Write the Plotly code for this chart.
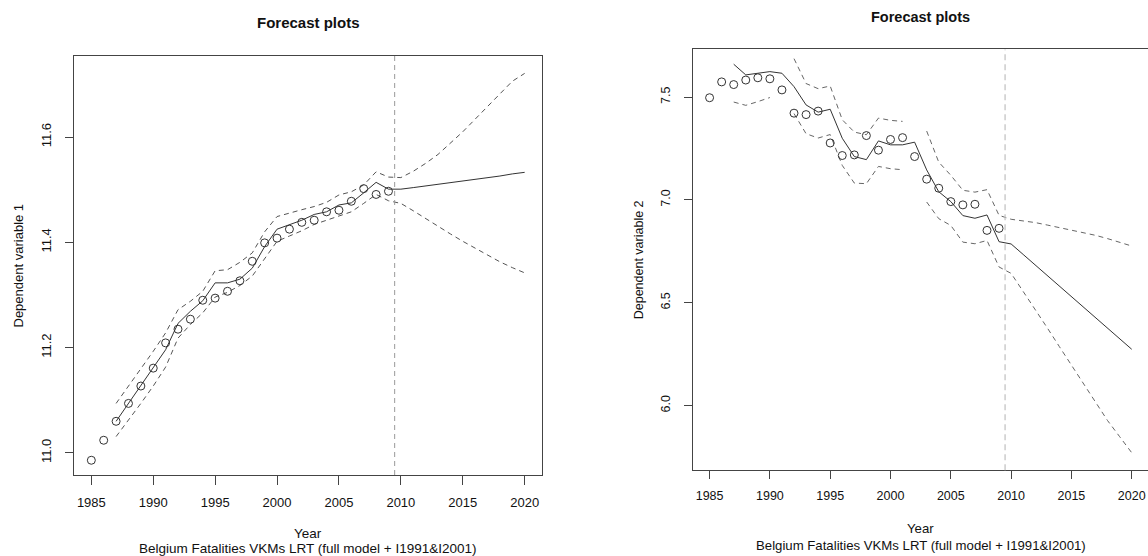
import plotly.graph_objects as go

# ---------------- data: panel 1 (dependent variable 1) ----------------
obs_years = list(range(1985, 2010))
fit_years = list(range(1987, 2021))

obs1 = [10.986, 11.024, 11.060, 11.094, 11.127, 11.161, 11.209, 11.235, 11.254, 11.290,
        11.294, 11.307, 11.327, 11.364, 11.399, 11.408, 11.425, 11.438, 11.442, 11.458,
        11.461, 11.478, 11.502, 11.491, 11.497]
fit1 = [11.060, 11.094, 11.127, 11.160, 11.196, 11.246, 11.269, 11.289, 11.323, 11.323,
        11.330, 11.351, 11.392, 11.425, 11.433, 11.442, 11.453, 11.458, 11.471, 11.475,
        11.494, 11.514, 11.501,
        11.501, 11.504, 11.507, 11.511, 11.514, 11.517, 11.520, 11.523, 11.526, 11.530, 11.533]
upper1 = [11.094, 11.126, 11.160, 11.193, 11.228, 11.272, 11.288, 11.307, 11.346, 11.348,
          11.362, 11.380, 11.420, 11.449, 11.456, 11.462, 11.468, 11.476, 11.490, 11.496,
          11.509, 11.534, 11.524,
          11.523, 11.535, 11.550, 11.567, 11.588, 11.610, 11.634, 11.658, 11.683, 11.706, 11.721]
lower1 = [11.031, 11.062, 11.094, 11.127, 11.163, 11.218, 11.244, 11.266, 11.296, 11.305,
          11.318, 11.336, 11.370, 11.402, 11.412, 11.422, 11.434, 11.442, 11.450, 11.458,
          11.474, 11.491, 11.479,
          11.474, 11.460, 11.445, 11.430, 11.416, 11.402, 11.389, 11.376, 11.363, 11.352, 11.342]

# ---------------- data: panel 2 (dependent variable 2) ----------------
obs2 = [7.497, 7.574, 7.561, 7.583, 7.594, 7.589, 7.535, 7.422, 7.415, 7.432,
        7.277, 7.216, 7.219, 7.313, 7.242, 7.294, 7.303, 7.211, 7.101, 7.057,
        6.992, 6.976, 6.979, 6.852, 6.862]
fit2 = [7.660, 7.608, 7.616, 7.624, 7.616, 7.551, 7.462, 7.427, 7.441, 7.300,
        7.211, 7.196, 7.287, 7.268, 7.268, 7.281, 7.146, 7.040, 6.992, 6.924,
        6.911, 6.927, 6.797,
        6.786, 6.735, 6.684, 6.633, 6.582, 6.530, 6.479, 6.428, 6.377, 6.326, 6.274]
upper2 = [None, None, None, None, None, 7.687, 7.566, 7.541, 7.554, 7.390,
          7.330, 7.317, 7.398, 7.387, 7.382, None, 7.335, 7.184, 7.120, 7.047,
          7.038, 7.050, 6.925,
          6.906, 6.898, 6.890, 6.878, 6.866, 6.854, 6.842, 6.828, 6.812, 6.795, 6.776]
lower2 = [7.476, 7.460, 7.478, 7.498, None, 7.420, 7.322, 7.301, 7.318, 7.168,
          7.082, 7.079, 7.163, 7.152, 7.147, None, 6.990, 6.909, 6.876, 6.795,
          6.787, 6.803, 6.674,
          6.643, 6.555, 6.468, 6.378, 6.287, 6.196, 6.105, 6.016, 5.927, 5.849, 5.771]

forecast_origin = 2009.5
x_ticks = [1985, 1990, 1995, 2000, 2005, 2010, 2015, 2020]
y1_ticks = [11.0, 11.2, 11.4, 11.6]
y2_ticks = [6.0, 6.5, 7.0, 7.5]

title_text = "Forecast plots"
x_title = "Year"
subtitle = "Belgium Fatalities VKMs LRT (full model + I1991&I2001)"
y1_title = "Dependent variable 1"
y2_title = "Dependent variable 2"

# ---------------- layout helpers ----------------
W, H = 1148, 556
FONT = "Liberation Sans, Arial, sans-serif"
INK = "#333333"
AXIS = "#444444"


def fx(px):
    return px / W


def fy(py):
    return 1 - py / H


fig = go.Figure()


def add_panel(xa, ya, obs, fit, upper, lower, band_color):
    fig.add_trace(go.Scatter(x=fit_years, y=upper, mode="lines", xaxis=xa, yaxis=ya,
                             line=dict(color=band_color, width=1, dash="5px,4px"),
                             connectgaps=False, showlegend=False, hoverinfo="skip"))
    fig.add_trace(go.Scatter(x=fit_years, y=lower, mode="lines", xaxis=xa, yaxis=ya,
                             line=dict(color=band_color, width=1, dash="5px,4px"),
                             connectgaps=False, showlegend=False, hoverinfo="skip"))
    fig.add_trace(go.Scatter(x=fit_years, y=fit, mode="lines", xaxis=xa, yaxis=ya,
                             line=dict(color=INK, width=1), showlegend=False))
    fig.add_trace(go.Scatter(x=obs_years, y=obs, mode="markers", xaxis=xa, yaxis=ya,
                             marker=dict(symbol="circle-open", size=8, color=INK,
                                         line=dict(width=1, color=INK)),
                             showlegend=False))


add_panel("x", "y", obs1, fit1, upper1, lower1, "#555555")
add_panel("x2", "y2", obs2, fit2, upper2, lower2, "#666666")

# forecast origin markers
fig.add_shape(type="line", xref="x", yref="y domain", x0=forecast_origin, x1=forecast_origin,
              y0=0, y1=1, line=dict(color="#999999", width=1, dash="5px,4px"))
fig.add_shape(type="line", xref="x2", yref="y2 domain", x0=forecast_origin, x1=forecast_origin,
              y0=0, y1=1, line=dict(color="#c4c4c4", width=1.3, dash="6px,4px"))

axis_common = dict(showgrid=False, zeroline=False, showline=True, linecolor=AXIS,
                   linewidth=1, ticks="outside", tickcolor=AXIS, tickwidth=1)

fig.update_layout(
    width=W, height=H, margin=dict(l=0, r=0, t=0, b=0),
    paper_bgcolor="white", plot_bgcolor="white",
    font=dict(family=FONT, color="#111111"),
    xaxis=dict(domain=[fx(74), fx(542)], range=[1983.6, 2021.4], anchor="y",
               tickvals=x_ticks, ticklen=9, tickfont=dict(size=13),
               ticklabelstandoff=6, mirror=True, **axis_common),
    yaxis=dict(domain=[fy(475), fy(56)], range=[10.958, 11.754], anchor="x",
               tickvals=y1_ticks, tickformat=".1f", ticklen=8, tickangle=-90,
               tickfont=dict(size=13), ticklabelstandoff=9, mirror=True, **axis_common),
    xaxis2=dict(domain=[fx(692.7), 1.0], range=[1983.6, 2021.35], anchor="y2",
                tickvals=x_ticks, ticklen=8, tickfont=dict(size=12.5),
                ticklabelstandoff=6, mirror=True, **axis_common),
    yaxis2=dict(domain=[fy(470.2), fy(49.4)], range=[5.686, 7.732], anchor="x2",
                tickvals=y2_ticks, tickformat=".1f", ticklen=8, tickangle=-90,
                tickfont=dict(size=12.5), ticklabelstandoff=9, mirror=False, **axis_common),
)


def label(text, x, y, size, bold=False, angle=0):
    fig.add_annotation(text=f"<b>{text}</b>" if bold else text, xref="paper", yref="paper",
                       x=fx(x), y=fy(y), xanchor="center", yanchor="middle",
                       showarrow=False, textangle=angle,
                       font=dict(family=FONT, size=size, color="#111111"))


label(title_text, 308, 23, 15, bold=True)
label(title_text, 920.7, 17, 14.5, bold=True)
label(x_title, 308, 533, 13.5)
label(subtitle, 308, 548, 13.5)
label(x_title, 920.7, 528.5, 13.2)
label(subtitle, 920.7, 545, 13.2)
label(y1_title, 18, 265.5, 13, angle=-90)
label(y2_title, 638.5, 259.8, 12.5, angle=-90)

fig.write_html("out.html")
